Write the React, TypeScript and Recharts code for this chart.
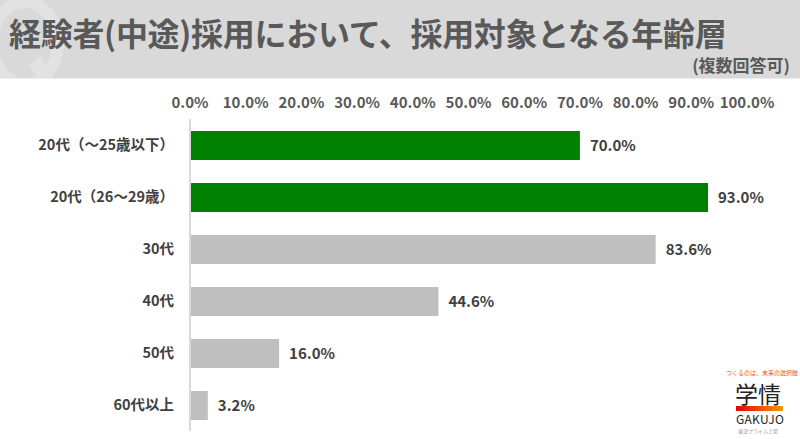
import { BarChart, Bar, XAxis, YAxis, Cell, LabelList } from 'recharts';

const categories = ['20代（～25歳以下）', '20代（26～29歳）', '30代', '40代', '50代', '60代以上'];
const values = [70.0, 93.0, 83.6, 44.6, 16.0, 3.2];
const barColors = ['#008000', '#008000', '#bfbfbf', '#bfbfbf', '#bfbfbf', '#bfbfbf'];
const xTicks = [0, 10, 20, 30, 40, 50, 60, 70, 80, 90, 100];

const title = '経験者(中途)採用において、採用対象となる年齢層';
const subtitle = '(複数回答可)';

const data = categories.map((name, i) => ({ name, value: values[i] }));

const jp = '"Noto Sans CJK JP", "Noto Sans", sans-serif';

function Logo() {
  const abs = { position: 'absolute' as const, whiteSpace: 'nowrap' as const, fontFamily: jp };
  return (
    <div style={{ position: 'absolute', left: 724, top: 368, width: 72, height: 70 }}>
      <div style={{ ...abs, left: 2, top: 1, fontSize: 6, lineHeight: '8px', color: '#e8501e' }}>つくるのは、未来の選択肢</div>
      <div style={{ ...abs, left: 11, top: 12, fontSize: 23, lineHeight: '26px', color: '#222', fontWeight: 400 }}>学情</div>
      <div style={{ position: 'absolute', left: 12, top: 38, width: 47, height: 5, background: 'linear-gradient(90deg,#e60012,#f39800)' }} />
      <div style={{ ...abs, left: 12, top: 44, fontSize: 12, lineHeight: '14px', color: '#222', fontWeight: 400, letterSpacing: 0.3 }}>GAKUJO</div>
      <div style={{ ...abs, left: 14, top: 59, fontSize: 5, lineHeight: '7px', color: '#999' }}>東証プライム上場</div>
    </div>
  );
}

export default function App() {
  return (
    <div style={{ position: 'fixed', left: 0, top: 0, width: 800, height: 439, background: '#ffffff', overflow: 'hidden' }}>
      <div style={{ position: 'absolute', left: 0, top: 0, width: 800, height: 78, background: '#d9d9d9', borderBottom: '1px solid #ebebeb', overflow: 'hidden' }}>
        {/* faint "Q" watermark drawn as a ring */}
        <div style={{ position: 'absolute', left: -14, top: -4, width: 54, height: 70, borderRadius: '50%', border: '12px solid #e2e2e2' }} />
        <div style={{ position: 'absolute', left: 34, top: 58, width: 14, height: 24, background: '#e2e2e2', transform: 'rotate(-35deg)' }} />
        <div style={{ position: 'absolute', left: 9, top: 12, fontSize: 32, fontWeight: 700, color: '#595959', fontFamily: jp, whiteSpace: 'nowrap', lineHeight: '40px', letterSpacing: -0.3 }}>{title}</div>
        <div style={{ position: 'absolute', right: 10, top: 54, fontSize: 17, fontWeight: 700, color: '#595959', fontFamily: jp, whiteSpace: 'nowrap', lineHeight: '22px' }}>{subtitle}</div>
      </div>
      <div style={{ position: 'absolute', left: 0, top: 0 }}>
        <BarChart
          width={800}
          height={439}
          data={data}
          layout="vertical"
          margin={{ top: 89, right: 53, bottom: 8, left: 0 }}
          barSize={29}
        >
          <XAxis
            type="number"
            orientation="top"
            domain={[0, 100]}
            ticks={xTicks}
            interval={0}
            height={30}
            axisLine={false}
            tickLine={false}
            tickSize={0}
            tickMargin={11}
            tickFormatter={(v: number) => `${v.toFixed(1)}%`}
            tick={{ fill: '#595959', fontSize: 15, fontWeight: 700, fontFamily: jp }}
          />
          <YAxis
            type="category"
            dataKey="name"
            width={190}
            axisLine={{ stroke: '#d9d9d9', strokeWidth: 2 }}
            tickLine={false}
            tickSize={0}
            tickMargin={16}
            tick={{ fill: '#404040', fontSize: 14.5, fontWeight: 700, fontFamily: jp }}
          />
          <Bar dataKey="value" isAnimationActive={false}>
            {data.map((d, i) => (
              <Cell key={d.name} fill={barColors[i]} />
            ))}
            <LabelList
              dataKey="value"
              position="right"
              offset={10}
              formatter={(v: number) => `${v.toFixed(1)}%`}
              style={{ fill: '#404040', fontSize: 15, fontWeight: 700, fontFamily: jp }}
            />
          </Bar>
        </BarChart>
      </div>
      <Logo />
    </div>
  );
}
